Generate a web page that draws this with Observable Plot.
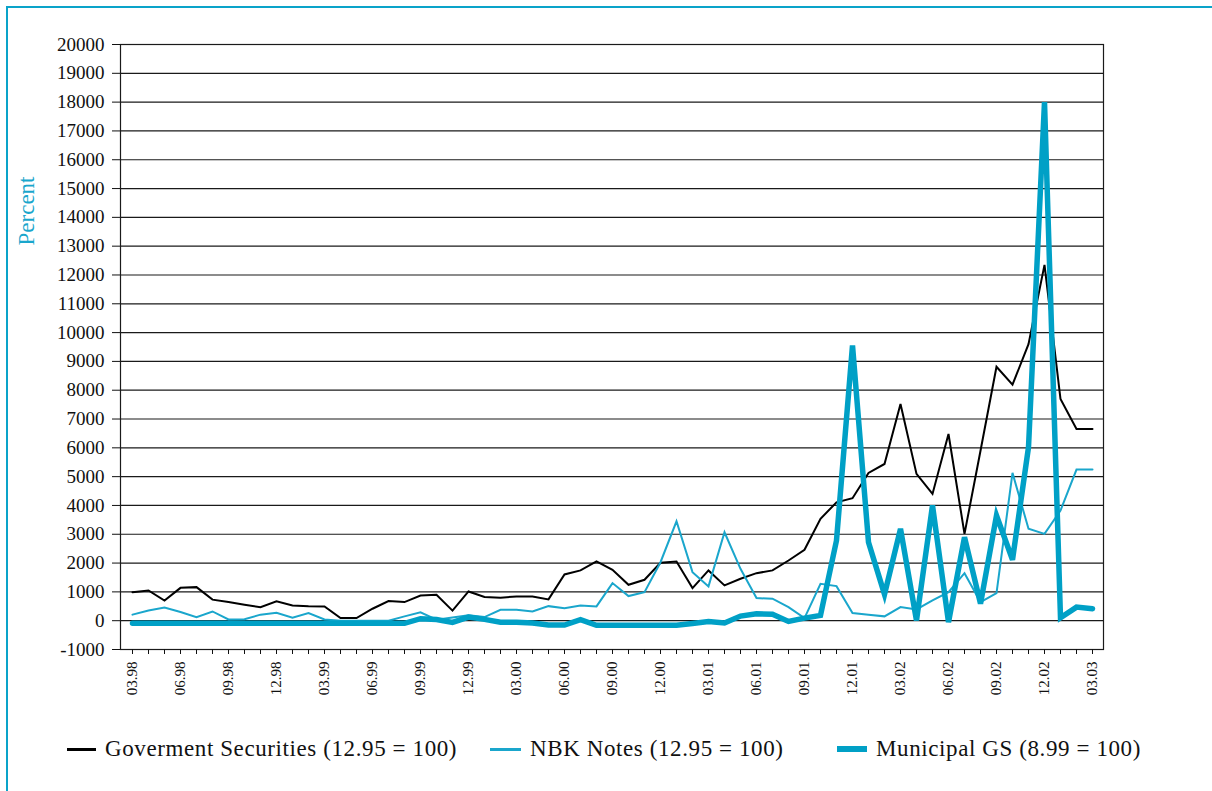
<!DOCTYPE html>
<html><head><meta charset="utf-8">
<script src="https://cdn.jsdelivr.net/npm/d3@7"></script>
<script src="https://cdn.jsdelivr.net/npm/@observablehq/plot@0.6"></script>
<style>
body{margin:0;background:#fff;}
#wrap{position:relative;width:1212px;height:791px;overflow:hidden;font-family:"Liberation Serif","Times New Roman",Tinos,"DejaVu Serif",serif;background:#fff;}
#border{position:absolute;left:6px;top:6px;width:1230px;height:810px;border-left:2.5px solid #0aa3c9;border-top:2.5px solid #0aa3c9;}
#chart{position:absolute;left:0;top:0;}
#ylab{position:absolute;left:27px;top:211px;transform:translate(-50%,-50%) rotate(-90deg);color:#1aa6cc;font-size:23px;white-space:nowrap;}
.leg{position:absolute;top:735px;height:28px;display:flex;align-items:center;font-size:23px;letter-spacing:0.6px;white-space:nowrap;color:#111;}
.sw{display:inline-block;margin-right:9px;}
svg text{font-family:"Liberation Serif","Times New Roman",Tinos,"DejaVu Serif",serif;}
</style></head>
<body>
<div id="wrap">
  <div id="border"></div>
  <div id="chart"></div>
  <div id="ylab">Percent</div>
  <div class="leg" style="left:67px"><span class="sw" style="width:29px;height:3px;background:#000"></span>Goverment Securities (12.95 = 100)</div>
  <div class="leg" style="left:490px"><span class="sw" style="width:31px;height:3px;background:#1aa6cc"></span>NBK Notes (12.95 = 100)</div>
  <div class="leg" style="left:837px"><span class="sw" style="width:30px;height:6px;background:#00a0c6"></span>Municipal GS (8.99 = 100)</div>
</div>
<script>
const months = [
"03.98","04.98","05.98","06.98","07.98","08.98","09.98","10.98","11.98","12.98","01.99","02.99",
"03.99","04.99","05.99","06.99","07.99","08.99","09.99","10.99","11.99","12.99","01.00","02.00",
"03.00","04.00","05.00","06.00","07.00","08.00","09.00","10.00","11.00","12.00","01.01","02.01",
"03.01","04.01","05.01","06.01","07.01","08.01","09.01","10.01","11.01","12.01","01.02","02.02",
"03.02","04.02","05.02","06.02","07.02","08.02","09.02","10.02","11.02","12.02","01.03","02.03",
"03.03"];
const govSecurities = [
990,1050,700,1140,1165,730,645,555,470,670,530,505,
495,90,90,415,680,645,875,900,350,1015,820,800,
840,840,740,1605,1745,2055,1765,1245,1420,2010,2055,1130,
1745,1225,1455,1650,1745,2090,2460,3535,4110,4250,5130,5440,
7520,5095,4400,6480,3015,5900,8815,8190,9600,12350,7695,6655,
6655];
const nbkNotes = [
210,355,460,300,125,320,45,50,210,275,105,265,
45,0,0,0,0,150,290,35,110,185,125,380,
380,320,505,435,530,495,1305,855,990,2030,3450,1685,
1190,3070,1800,785,762,472,90,1282,1200,265,207,150,
472,392,704,993,1650,646,958,5130,3190,3015,3825,5245,
5245];
const municipalGS = [
-90,-90,-90,-90,-90,-90,-90,-90,-90,-90,-90,-90,
-90,-90,-90,-90,-90,-90,70,40,-60,125,45,-50,
-50,-80,-150,-150,35,-160,-160,-160,-160,-160,-160,-100,
-30,-80,160,240,220,-25,90,185,2785,9550,2725,912,
3190,10,4000,-50,2900,590,3650,2115,6020,18000,100,472,
415];
const yTicks = d3.range(-1000, 20001, 1000);

const rows = months.map((m, i) => ({month: m, gov: govSecurities[i], nbk: nbkNotes[i], mun: municipalGS[i]}));

const serif = '"Liberation Serif","Times New Roman",Tinos,"DejaVu Serif",serif';
const plot = Plot.plot({
  width: 1212, height: 720,
  marginLeft: 120, marginRight: 109, marginTop: 44, marginBottom: 71,
  x: {type: "point", domain: months, padding: 0},
  y: {domain: [-1000, 20000]},
  style: {fontFamily: serif, color: "#111", background: "transparent", overflow: "visible"},
  marks: [
    Plot.gridY(yTicks, {stroke: "#1a1a1a", strokeOpacity: 1, strokeWidth: 1.2}),
    Plot.frame({stroke: "#1a1a1a", strokeWidth: 1.2}),
    Plot.axisY(yTicks, {tickSize: 8, tickPadding: 8, fontSize: 19, label: null, tickFormat: d => String(d)}),
    Plot.axisX(months, {tickSize: 5, tickRotate: -90, tickPadding: 7, fontSize: 15, label: null,
      tickFormat: d => months.indexOf(d) % 3 === 0 ? d : ""}),
    Plot.line(rows, {x: "month", y: "gov", stroke: "#000", strokeWidth: 2, strokeLinejoin: "miter", strokeMiterlimit: 4}),
    Plot.line(rows, {x: "month", y: "nbk", stroke: "#1aa6cc", strokeWidth: 2, strokeLinejoin: "miter", strokeMiterlimit: 4}),
    Plot.line(rows, {x: "month", y: "mun", stroke: "#00a0c6", strokeWidth: 5.5, strokeLinejoin: "miter", strokeMiterlimit: 4})
  ]
});
document.getElementById("chart").appendChild(plot);
</script>
</body></html>
